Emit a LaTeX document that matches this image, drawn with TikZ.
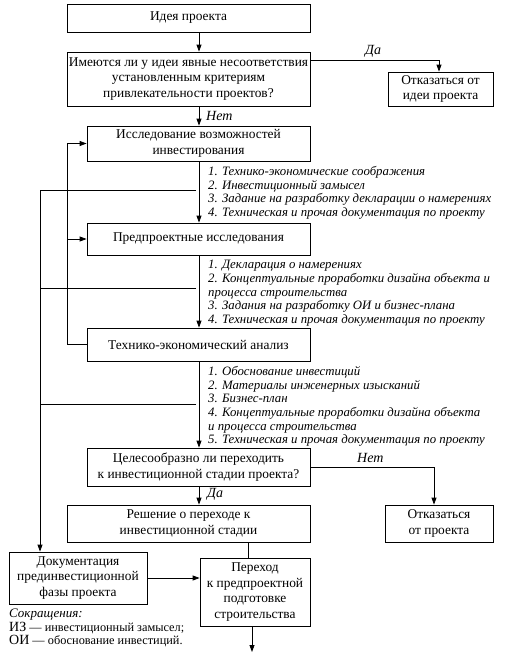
\documentclass[tikz,border=0pt]{standalone}
\usepackage{fontspec}
\setmainfont{Liberation Serif}
\usetikzlibrary{arrows.meta}
\begin{document}
\begin{tikzpicture}[x=1pt,y=-1pt,
 box/.style={draw, line width=0.8pt, align=center, inner sep=1pt, font=\fontsize{13.4}{15.5}\selectfont},
 arr/.style={line width=0.8pt,-{Triangle[length=7pt,width=5pt]}},
 ln/.style={line width=0.8pt},
 lst/.style={align=left, anchor=north west, inner sep=0pt, font=\fontsize{12.8}{13.7}\selectfont\itshape},
 lbl/.style={font=\fontsize{14}{15}\selectfont\itshape, inner sep=0pt, anchor=west}]
\useasboundingbox (0,0) rectangle (515,656);
\node[box, minimum width=243pt, minimum height=28pt] (idea) at (188.5,18) {Идея проекта};
\node[box, minimum width=243pt, minimum height=54pt] (q1) at (188.5,79) {Имеются ли у идеи явные несоответствия\\установленным критериям\\привлекательности проектов?};
\node[box, minimum width=105pt, minimum height=34pt] (rej1) at (440.5,89) {Отказаться от\\идеи проекта};
\node[box, minimum width=223pt, minimum height=35pt] (inv) at (198.5,143.5) {Исследование возможностей\\инвестирования};
\node[box, minimum width=223pt, minimum height=32pt] (pre) at (198.5,239) {Предпроектные исследования};
\node[box, minimum width=223pt, minimum height=33pt] (tea) at (198.5,344.5) {Технико-экономический анализ};
\node[box, minimum width=223pt, minimum height=38pt] (q2) at (198.5,467) {Целесообразно ли переходить\\к инвестиционной стадии проекта?};
\node[box, minimum width=108pt, minimum height=37pt] (rej2) at (439,523.5) {Отказаться\\от проекта};
\node[box, minimum width=243pt, minimum height=37pt] (dec) at (188.5,523.5) {Решение о переходе к\\инвестиционной стадии};
\node[box, minimum width=110pt, minimum height=68pt] (go) at (255,592) {Переход\\к предпроектной\\подготовке\\строительства};
\node[box, minimum width=138pt, minimum height=52pt] (doc) at (78,578) {Документация\\прединвестиционной\\фазы проекта};

\node[lst] (l1) at (208,166) {1. Технико-экономические соображения\\2. Инвестиционный замысел\\3. Задание на разработку декларации о намерениях\\4. Техническая и прочая документация по проекту};
\node[lst] (l2) at (208,260) {1. Декларация о намерениях\\2. Концептуальные проработки дизайна объекта и\\процесса строительства\\3. Задания на разработку ОИ и бизнес-плана\\4. Техническая и прочая документация по проекту};
\node[lst] (l3) at (208,366) {1. Обоснование инвестиций\\2. Материалы инженерных изысканий\\3. Бизнес-план\\4. Концептуальные проработки дизайна объекта\\и процесса строительства\\5. Техническая и прочая документация по проекту};

\node[lbl] (da1) at (365,51) {Да};
\node[lbl] (net1) at (206,116) {Нет};
\node[lbl] (net2) at (357,458) {Нет};
\node[lbl] (da2) at (207,494) {Да};

\node[anchor=north west, align=left, inner sep=0pt, font=\fontsize{12.3}{13.5}\selectfont] (abbr) at (9,609) {{\itshape\fontsize{13}{13.5}\selectfont Сокращения:}\\{\fontsize{14}{13.5}\selectfont ИЗ} — инвестиционный замысел;\\{\fontsize{14}{13.5}\selectfont ОИ} — обоснование инвестиций.};

\coordinate (mx) at (199,0);
\draw[arr] (idea.south -| mx) -- (q1.north -| mx);
\draw[arr] (q1.south -| mx) -- (inv.north -| mx);
\draw[arr] (inv.south -| mx) -- (pre.north -| mx);
\draw[arr] (pre.south -| mx) -- (tea.north -| mx);
\draw[arr] (tea.south -| mx) -- (q2.north -| mx);
\draw[arr] (q2.south -| mx) -- (dec.north -| mx);

\coordinate (daR) at (439,60);
\draw[arr] (q1.east |- daR) -- (daR) -- (rej1.north -| daR);
\coordinate (netR) at (434,467);
\draw[arr] (q2.east) -- (netR) -- (rej2.north -| netR);

\coordinate (dx) at (248,0);
\draw[ln] (dec.south -| dx) -- (go.north -| dx);
\coordinate (bot) at (252,652);
\draw[arr] (go.south -| bot) -- (bot);
\draw[arr] (doc.east) -- (go.west |- doc.east);

\coordinate (fbx) at (67,0);
\draw[arr] (tea.west) -- (tea.west -| fbx) -- (inv.west -| fbx) -- (inv.west);
\draw[arr] (pre.west -| fbx) -- (pre.west);

\coordinate (dlx) at (40,0);
\coordinate (d1) at (196,190);
\coordinate (d2) at (196,288);
\coordinate (d3) at (196,404);
\draw[ln] (d1) -- (d1 -| dlx);
\draw[ln] (d2) -- (d2 -| dlx);
\draw[ln] (d3) -- (d3 -| dlx);
\draw[arr] (d1 -| dlx) -- (doc.north -| dlx);
\end{tikzpicture}
\end{document}
